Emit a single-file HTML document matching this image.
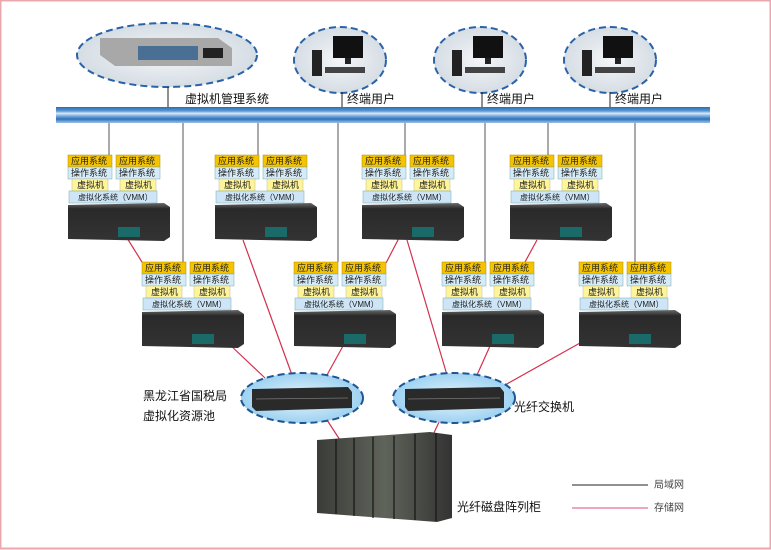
<!DOCTYPE html>
<html><head><meta charset="utf-8">
<style>
html,body{margin:0;padding:0;background:#fff}
svg{display:block}
text{font-family:"Liberation Sans","Noto Sans CJK SC",sans-serif}
.s{font-size:9px;fill:#222}
.v{font-size:8px;fill:#222}
.l{font-size:12px;fill:#111}
</style></head><body>
<svg width="771" height="550" viewBox="0 0 771 550" xmlns="http://www.w3.org/2000/svg">
<defs>
<linearGradient id="bus" x1="0" y1="0" x2="0" y2="1">
<stop offset="0" stop-color="#2a6db5"/><stop offset="0.25" stop-color="#5b97d4"/><stop offset="0.4" stop-color="#dbe9f7"/><stop offset="0.55" stop-color="#7fb0e0"/><stop offset="0.75" stop-color="#2f72b8"/><stop offset="1" stop-color="#9cc3ea"/>
</linearGradient>
<radialGradient id="eg" cx="0.5" cy="0.5" r="0.6"><stop offset="0" stop-color="#f4f6f8"/><stop offset="1" stop-color="#cfd8e0"/></radialGradient>
<radialGradient id="eb" cx="0.5" cy="0.5" r="0.6"><stop offset="0" stop-color="#e6f4fc"/><stop offset="1" stop-color="#8fcbef"/></radialGradient>
<linearGradient id="srv" x1="0" y1="0" x2="0" y2="1"><stop offset="0" stop-color="#6a6a6a"/><stop offset="0.15" stop-color="#2a2a2a"/><stop offset="1" stop-color="#333"/></linearGradient>
<linearGradient id="cab" x1="0" y1="0" x2="1" y2="0"><stop offset="0" stop-color="#3a3c38"/><stop offset="0.5" stop-color="#5f645a"/><stop offset="1" stop-color="#333"/></linearGradient>
</defs>
<rect x="0.5" y="0.5" width="770" height="548" fill="#fff" stroke="#e8a8ae" stroke-width="2"/>

<ellipse cx="167" cy="55" rx="90" ry="32" fill="url(#eg)" stroke="#2a62a8" stroke-width="2" stroke-dasharray="7,4"/>
<polygon points="100,38 218,38 232,48 232,66 115,66 100,55" fill="#a8a8a8"/>
<rect x="138" y="46" width="60" height="14" fill="#4a6f95"/>
<rect x="203" y="48" width="20" height="10" fill="#222"/>
<g>
<ellipse cx="340" cy="60" rx="46" ry="33" fill="url(#eg)" stroke="#2a62a8" stroke-width="2" stroke-dasharray="7,4"/>
<rect x="333" y="36" width="30" height="22" fill="#111"/><rect x="345" y="58" width="6" height="6" fill="#222"/>
<rect x="312" y="50" width="10" height="26" fill="#222"/><rect x="325" y="67" width="40" height="6" fill="#444"/>
</g>
<g>
<ellipse cx="480" cy="60" rx="46" ry="33" fill="url(#eg)" stroke="#2a62a8" stroke-width="2" stroke-dasharray="7,4"/>
<rect x="473" y="36" width="30" height="22" fill="#111"/><rect x="485" y="58" width="6" height="6" fill="#222"/>
<rect x="452" y="50" width="10" height="26" fill="#222"/><rect x="465" y="67" width="40" height="6" fill="#444"/>
</g>
<g>
<ellipse cx="610" cy="60" rx="46" ry="33" fill="url(#eg)" stroke="#2a62a8" stroke-width="2" stroke-dasharray="7,4"/>
<rect x="603" y="36" width="30" height="22" fill="#111"/><rect x="615" y="58" width="6" height="6" fill="#222"/>
<rect x="582" y="50" width="10" height="26" fill="#222"/><rect x="595" y="67" width="40" height="6" fill="#444"/>
</g>
<g stroke="#222" stroke-width="1">
<line x1="168" y1="87" x2="168" y2="107"/><line x1="342" y1="92" x2="342" y2="107"/><line x1="482" y1="92" x2="482" y2="107"/><line x1="610" y1="92" x2="610" y2="107"/>
</g>
<text class="l" x="185" y="103">虚拟机管理系统</text>
<text class="l" x="347" y="103">终端用户</text>
<text class="l" x="487" y="103">终端用户</text>
<text class="l" x="615" y="103">终端用户</text>
<rect x="56" y="107" width="654" height="16" fill="url(#bus)"/>

<g stroke="#555" stroke-width="1">
<line x1="109" y1="123" x2="109" y2="155"/><line x1="258" y1="123" x2="258" y2="155"/><line x1="405" y1="123" x2="405" y2="155"/><line x1="548" y1="123" x2="548" y2="155"/>
<line x1="183" y1="123" x2="183" y2="262"/><line x1="338" y1="123" x2="338" y2="262"/><line x1="485" y1="123" x2="485" y2="262"/><line x1="635" y1="123" x2="635" y2="262"/>
</g>

<g stroke="#d4304f" stroke-width="1.2">
<line x1="127" y1="238" x2="142" y2="262"/><line x1="228" y1="343" x2="265" y2="378"/><line x1="243" y1="240" x2="292" y2="375"/>
<line x1="399" y1="238" x2="386" y2="263"/><line x1="407" y1="240" x2="447" y2="375"/><line x1="343" y1="346" x2="327" y2="375"/>
<line x1="490" y1="346" x2="477" y2="375"/><line x1="537" y1="240" x2="525" y2="262"/><line x1="580" y1="343" x2="505" y2="385"/>
<line x1="327" y1="420" x2="340" y2="440"/><line x1="440" y1="420" x2="432" y2="437"/>
</g>

<g transform="translate(68,155)">
<rect x="0" y="0" width="44" height="12" fill="#f5c400" stroke="#b08a00" stroke-width=".5"/><rect x="48" y="0" width="44" height="12" fill="#f5c400" stroke="#b08a00" stroke-width=".5"/>
<rect x="0" y="12" width="44" height="12" fill="#d6ebf8" stroke="#7aa" stroke-width=".5"/><rect x="48" y="12" width="44" height="12" fill="#d6ebf8" stroke="#7aa" stroke-width=".5"/>
<rect x="4" y="24" width="36" height="12" fill="#fff497" stroke="#bb9" stroke-width=".5"/><rect x="52" y="24" width="36" height="12" fill="#fff497" stroke="#bb9" stroke-width=".5"/>
<rect x="1" y="36" width="88" height="12" fill="#cde5f6" stroke="#7aa" stroke-width=".5"/>
<text class="s" x="3" y="9">应用系统</text><text class="s" x="51" y="9">应用系统</text>
<text class="s" x="3" y="21">操作系统</text><text class="s" x="51" y="21">操作系统</text>
<text class="s" x="9" y="33">虚拟机</text><text class="s" x="57" y="33">虚拟机</text>
<text class="v" x="10" y="45">虚拟化系统（VMM）</text>
<polygon points="0,50 96,48 102,52 102,82 96,86 0,84" fill="url(#srv)"/><rect x="50" y="72" width="22" height="10" fill="#1a6a6a"/>
</g>
<g transform="translate(215,155)">
<rect x="0" y="0" width="44" height="12" fill="#f5c400" stroke="#b08a00" stroke-width=".5"/><rect x="48" y="0" width="44" height="12" fill="#f5c400" stroke="#b08a00" stroke-width=".5"/>
<rect x="0" y="12" width="44" height="12" fill="#d6ebf8" stroke="#7aa" stroke-width=".5"/><rect x="48" y="12" width="44" height="12" fill="#d6ebf8" stroke="#7aa" stroke-width=".5"/>
<rect x="4" y="24" width="36" height="12" fill="#fff497" stroke="#bb9" stroke-width=".5"/><rect x="52" y="24" width="36" height="12" fill="#fff497" stroke="#bb9" stroke-width=".5"/>
<rect x="1" y="36" width="88" height="12" fill="#cde5f6" stroke="#7aa" stroke-width=".5"/>
<text class="s" x="3" y="9">应用系统</text><text class="s" x="51" y="9">应用系统</text>
<text class="s" x="3" y="21">操作系统</text><text class="s" x="51" y="21">操作系统</text>
<text class="s" x="9" y="33">虚拟机</text><text class="s" x="57" y="33">虚拟机</text>
<text class="v" x="10" y="45">虚拟化系统（VMM）</text>
<polygon points="0,50 96,48 102,52 102,82 96,86 0,84" fill="url(#srv)"/><rect x="50" y="72" width="22" height="10" fill="#1a6a6a"/>
</g>
<g transform="translate(362,155)">
<rect x="0" y="0" width="44" height="12" fill="#f5c400" stroke="#b08a00" stroke-width=".5"/><rect x="48" y="0" width="44" height="12" fill="#f5c400" stroke="#b08a00" stroke-width=".5"/>
<rect x="0" y="12" width="44" height="12" fill="#d6ebf8" stroke="#7aa" stroke-width=".5"/><rect x="48" y="12" width="44" height="12" fill="#d6ebf8" stroke="#7aa" stroke-width=".5"/>
<rect x="4" y="24" width="36" height="12" fill="#fff497" stroke="#bb9" stroke-width=".5"/><rect x="52" y="24" width="36" height="12" fill="#fff497" stroke="#bb9" stroke-width=".5"/>
<rect x="1" y="36" width="88" height="12" fill="#cde5f6" stroke="#7aa" stroke-width=".5"/>
<text class="s" x="3" y="9">应用系统</text><text class="s" x="51" y="9">应用系统</text>
<text class="s" x="3" y="21">操作系统</text><text class="s" x="51" y="21">操作系统</text>
<text class="s" x="9" y="33">虚拟机</text><text class="s" x="57" y="33">虚拟机</text>
<text class="v" x="10" y="45">虚拟化系统（VMM）</text>
<polygon points="0,50 96,48 102,52 102,82 96,86 0,84" fill="url(#srv)"/><rect x="50" y="72" width="22" height="10" fill="#1a6a6a"/>
</g>
<g transform="translate(510,155)">
<rect x="0" y="0" width="44" height="12" fill="#f5c400" stroke="#b08a00" stroke-width=".5"/><rect x="48" y="0" width="44" height="12" fill="#f5c400" stroke="#b08a00" stroke-width=".5"/>
<rect x="0" y="12" width="44" height="12" fill="#d6ebf8" stroke="#7aa" stroke-width=".5"/><rect x="48" y="12" width="44" height="12" fill="#d6ebf8" stroke="#7aa" stroke-width=".5"/>
<rect x="4" y="24" width="36" height="12" fill="#fff497" stroke="#bb9" stroke-width=".5"/><rect x="52" y="24" width="36" height="12" fill="#fff497" stroke="#bb9" stroke-width=".5"/>
<rect x="1" y="36" width="88" height="12" fill="#cde5f6" stroke="#7aa" stroke-width=".5"/>
<text class="s" x="3" y="9">应用系统</text><text class="s" x="51" y="9">应用系统</text>
<text class="s" x="3" y="21">操作系统</text><text class="s" x="51" y="21">操作系统</text>
<text class="s" x="9" y="33">虚拟机</text><text class="s" x="57" y="33">虚拟机</text>
<text class="v" x="10" y="45">虚拟化系统（VMM）</text>
<polygon points="0,50 96,48 102,52 102,82 96,86 0,84" fill="url(#srv)"/><rect x="50" y="72" width="22" height="10" fill="#1a6a6a"/>
</g>
<g transform="translate(142,262)">
<rect x="0" y="0" width="44" height="12" fill="#f5c400" stroke="#b08a00" stroke-width=".5"/><rect x="48" y="0" width="44" height="12" fill="#f5c400" stroke="#b08a00" stroke-width=".5"/>
<rect x="0" y="12" width="44" height="12" fill="#d6ebf8" stroke="#7aa" stroke-width=".5"/><rect x="48" y="12" width="44" height="12" fill="#d6ebf8" stroke="#7aa" stroke-width=".5"/>
<rect x="4" y="24" width="36" height="12" fill="#fff497" stroke="#bb9" stroke-width=".5"/><rect x="52" y="24" width="36" height="12" fill="#fff497" stroke="#bb9" stroke-width=".5"/>
<rect x="1" y="36" width="88" height="12" fill="#cde5f6" stroke="#7aa" stroke-width=".5"/>
<text class="s" x="3" y="9">应用系统</text><text class="s" x="51" y="9">应用系统</text>
<text class="s" x="3" y="21">操作系统</text><text class="s" x="51" y="21">操作系统</text>
<text class="s" x="9" y="33">虚拟机</text><text class="s" x="57" y="33">虚拟机</text>
<text class="v" x="10" y="45">虚拟化系统（VMM）</text>
<polygon points="0,50 96,48 102,52 102,82 96,86 0,84" fill="url(#srv)"/><rect x="50" y="72" width="22" height="10" fill="#1a6a6a"/>
</g>
<g transform="translate(294,262)">
<rect x="0" y="0" width="44" height="12" fill="#f5c400" stroke="#b08a00" stroke-width=".5"/><rect x="48" y="0" width="44" height="12" fill="#f5c400" stroke="#b08a00" stroke-width=".5"/>
<rect x="0" y="12" width="44" height="12" fill="#d6ebf8" stroke="#7aa" stroke-width=".5"/><rect x="48" y="12" width="44" height="12" fill="#d6ebf8" stroke="#7aa" stroke-width=".5"/>
<rect x="4" y="24" width="36" height="12" fill="#fff497" stroke="#bb9" stroke-width=".5"/><rect x="52" y="24" width="36" height="12" fill="#fff497" stroke="#bb9" stroke-width=".5"/>
<rect x="1" y="36" width="88" height="12" fill="#cde5f6" stroke="#7aa" stroke-width=".5"/>
<text class="s" x="3" y="9">应用系统</text><text class="s" x="51" y="9">应用系统</text>
<text class="s" x="3" y="21">操作系统</text><text class="s" x="51" y="21">操作系统</text>
<text class="s" x="9" y="33">虚拟机</text><text class="s" x="57" y="33">虚拟机</text>
<text class="v" x="10" y="45">虚拟化系统（VMM）</text>
<polygon points="0,50 96,48 102,52 102,82 96,86 0,84" fill="url(#srv)"/><rect x="50" y="72" width="22" height="10" fill="#1a6a6a"/>
</g>
<g transform="translate(442,262)">
<rect x="0" y="0" width="44" height="12" fill="#f5c400" stroke="#b08a00" stroke-width=".5"/><rect x="48" y="0" width="44" height="12" fill="#f5c400" stroke="#b08a00" stroke-width=".5"/>
<rect x="0" y="12" width="44" height="12" fill="#d6ebf8" stroke="#7aa" stroke-width=".5"/><rect x="48" y="12" width="44" height="12" fill="#d6ebf8" stroke="#7aa" stroke-width=".5"/>
<rect x="4" y="24" width="36" height="12" fill="#fff497" stroke="#bb9" stroke-width=".5"/><rect x="52" y="24" width="36" height="12" fill="#fff497" stroke="#bb9" stroke-width=".5"/>
<rect x="1" y="36" width="88" height="12" fill="#cde5f6" stroke="#7aa" stroke-width=".5"/>
<text class="s" x="3" y="9">应用系统</text><text class="s" x="51" y="9">应用系统</text>
<text class="s" x="3" y="21">操作系统</text><text class="s" x="51" y="21">操作系统</text>
<text class="s" x="9" y="33">虚拟机</text><text class="s" x="57" y="33">虚拟机</text>
<text class="v" x="10" y="45">虚拟化系统（VMM）</text>
<polygon points="0,50 96,48 102,52 102,82 96,86 0,84" fill="url(#srv)"/><rect x="50" y="72" width="22" height="10" fill="#1a6a6a"/>
</g>
<g transform="translate(579,262)">
<rect x="0" y="0" width="44" height="12" fill="#f5c400" stroke="#b08a00" stroke-width=".5"/><rect x="48" y="0" width="44" height="12" fill="#f5c400" stroke="#b08a00" stroke-width=".5"/>
<rect x="0" y="12" width="44" height="12" fill="#d6ebf8" stroke="#7aa" stroke-width=".5"/><rect x="48" y="12" width="44" height="12" fill="#d6ebf8" stroke="#7aa" stroke-width=".5"/>
<rect x="4" y="24" width="36" height="12" fill="#fff497" stroke="#bb9" stroke-width=".5"/><rect x="52" y="24" width="36" height="12" fill="#fff497" stroke="#bb9" stroke-width=".5"/>
<rect x="1" y="36" width="88" height="12" fill="#cde5f6" stroke="#7aa" stroke-width=".5"/>
<text class="s" x="3" y="9">应用系统</text><text class="s" x="51" y="9">应用系统</text>
<text class="s" x="3" y="21">操作系统</text><text class="s" x="51" y="21">操作系统</text>
<text class="s" x="9" y="33">虚拟机</text><text class="s" x="57" y="33">虚拟机</text>
<text class="v" x="10" y="45">虚拟化系统（VMM）</text>
<polygon points="0,50 96,48 102,52 102,82 96,86 0,84" fill="url(#srv)"/><rect x="50" y="72" width="22" height="10" fill="#1a6a6a"/>
</g>

<ellipse cx="302" cy="398" rx="61" ry="25" fill="url(#eb)" stroke="#1f5590" stroke-width="2" stroke-dasharray="7,4"/>
<polygon points="252,389 348,387 352,392 352,408 256,411 252,407" fill="#2a2a2a"/><line x1="256" y1="399" x2="348" y2="398" stroke="#777" stroke-width=".8"/>
<ellipse cx="454" cy="398" rx="61" ry="25" fill="url(#eb)" stroke="#1f5590" stroke-width="2" stroke-dasharray="7,4"/>
<polygon points="405,389 500,387 504,392 504,408 408,411 405,407" fill="#2a2a2a"/><line x1="408" y1="399" x2="500" y2="398" stroke="#777" stroke-width=".8"/>

<polygon points="317,440 430,432 452,435 452,518 437,522 317,513" fill="url(#cab)"/>
<g stroke="#151515" stroke-width="1.2"><line x1="336" y1="439" x2="336" y2="514"/><line x1="354" y1="438" x2="354" y2="516"/><line x1="373" y1="437" x2="373" y2="518"/><line x1="394" y1="436" x2="394" y2="519"/><line x1="415" y1="434" x2="415" y2="520"/><line x1="436" y1="433" x2="436" y2="521"/></g>

<text class="l" x="143" y="400">黑龙江省国税局</text>
<text class="l" x="143" y="420">虚拟化资源池</text>
<text class="l" x="514" y="411">光纤交换机</text>
<text class="l" x="457" y="511">光纤磁盘阵列柜</text>

<line x1="572" y1="485" x2="648" y2="485" stroke="#222" stroke-width="1"/>
<text x="654" y="488" style="font-size:10px;fill:#444">局域网</text>
<line x1="572" y1="508" x2="648" y2="508" stroke="#e0709a" stroke-width="1.2"/>
<text x="654" y="511" style="font-size:10px;fill:#444">存储网</text>
</svg>
</body></html>
